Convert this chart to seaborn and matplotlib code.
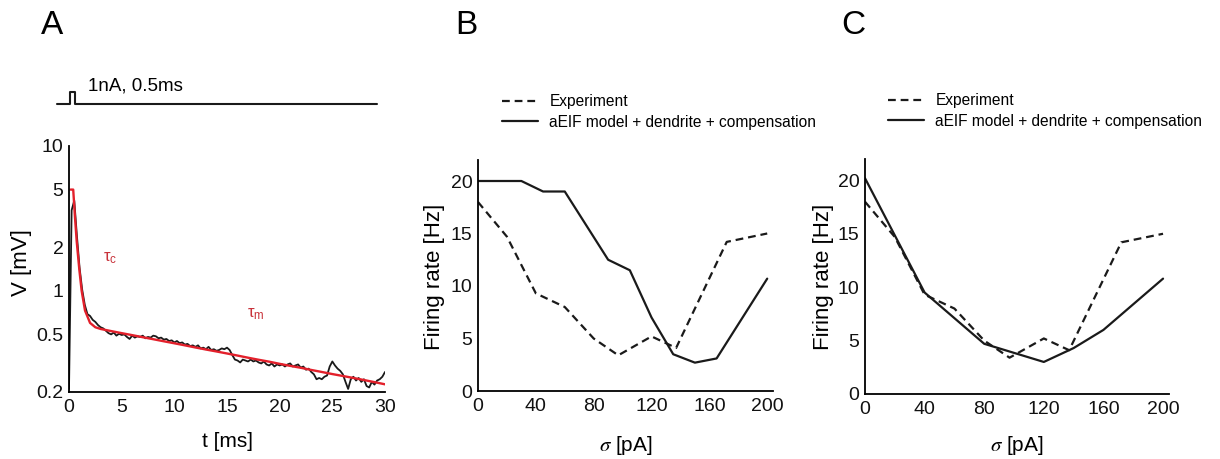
import numpy as np
import matplotlib
matplotlib.use("Agg")
import matplotlib.pyplot as plt
from matplotlib.ticker import NullLocator
import seaborn as sns

# ---------------- data ----------------
# Panel A: stimulus pulse
stim_t = [-1.1, 0.1, 0.1, 0.55, 0.55, 29.2]
stim_i = [0, 0, 1, 1, 0, 0]

# Panel A: recorded voltage (sampled every 0.25 ms, 0..30 ms)
volt_dt = 0.25
volt_v = [0.21, 3.6, 4.2, 2.4, 1.45, 1.02, 0.80, 0.69, 0.67, 0.63, 0.61, 0.58,
          0.56, 0.55, 0.53, 0.51, 0.50, 0.515, 0.49, 0.505, 0.495, 0.50, 0.48, 0.465,
          0.49, 0.475, 0.485, 0.48, 0.49, 0.47, 0.48, 0.475, 0.49, 0.485, 0.47, 0.475,
          0.46, 0.465, 0.45, 0.455, 0.44, 0.45, 0.435, 0.44, 0.425, 0.43, 0.415, 0.42,
          0.41, 0.42, 0.40, 0.405, 0.395, 0.41, 0.39, 0.395, 0.385, 0.39, 0.40, 0.395,
          0.405, 0.39, 0.36, 0.335, 0.33, 0.32, 0.335, 0.33, 0.325, 0.335, 0.325, 0.33,
          0.32, 0.315, 0.325, 0.31, 0.305, 0.315, 0.30, 0.31, 0.305, 0.31, 0.30, 0.31,
          0.315, 0.30, 0.305, 0.31, 0.295, 0.30, 0.285, 0.29, 0.275, 0.265, 0.245, 0.25,
          0.245, 0.255, 0.26, 0.30, 0.325, 0.305, 0.29, 0.28, 0.265, 0.235, 0.21, 0.245,
          0.255, 0.24, 0.25, 0.235, 0.245, 0.22, 0.215, 0.235, 0.225, 0.24, 0.245, 0.255,
          0.275]
volt_t = np.arange(len(volt_v)) * volt_dt

# Panel A: fit
fit_t = [0.15, 0.4, 0.57, 0.73, 0.98, 1.2, 1.52, 2.0, 2.5, 3, 4, 5, 6, 7, 8, 9, 10,
         11, 12, 13, 14, 15, 16, 17, 18, 19, 20, 21, 22, 23, 24, 25, 26, 27, 28, 29, 30]
fit_v = [5.0, 5.0, 3.2, 2.2, 1.4, 1.0, 0.73, 0.60, 0.56, 0.545, 0.527, 0.510, 0.494,
         0.478, 0.463, 0.448, 0.434, 0.420, 0.406, 0.393, 0.381, 0.369, 0.357, 0.345,
         0.334, 0.324, 0.313, 0.303, 0.294, 0.284, 0.275, 0.266, 0.258, 0.250, 0.242,
         0.234, 0.226]

# Panels B, C: experiment
exp_sigma = [0, 20, 40, 60, 80, 97, 120, 137, 172, 200]
exp_rate = [18.0, 14.7, 9.3, 8.0, 5.0, 3.4, 5.2, 4.1, 14.2, 15.0]

# Panel B: model
modB_sigma = [0, 30, 45, 60, 90, 105, 120, 135, 150, 165, 200]
modB_rate = [20.0, 20.0, 19.0, 19.0, 12.5, 11.5, 7.0, 3.5, 2.7, 3.1, 10.7]

# Panel C: model
modC_sigma = [0, 40, 80, 120, 140, 160, 200]
modC_rate = [20.2, 9.5, 4.7, 3.0, 4.3, 6.0, 10.8]

A_xticks = [0, 5, 10, 15, 20, 25, 30]
A_yticks = [0.2, 0.5, 1, 2, 5, 10]
A_yticklabels = ["0.2", "0.5", "1", "2", "5", "10"]
BC_xticks = [0, 40, 80, 120, 160, 200]
BC_xminor = [20, 60, 100, 140, 180]
BC_yticks = [0, 5, 10, 15, 20]

# ---------------- style ----------------
sns.set_theme(style="white")
plt.rcParams["font.family"] = ["Liberation Sans", "DejaVu Sans"]
plt.rcParams["mathtext.fontset"] = "stix"
plt.rcParams["text.color"] = "black"
plt.rcParams["axes.labelcolor"] = "black"
plt.rcParams["xtick.color"] = "black"
plt.rcParams["ytick.color"] = "black"

W, H = 1220, 459
fig = plt.figure(figsize=(W / 100, H / 100), dpi=100)


def fax(l, t, r, b):
    return fig.add_axes([l / W, 1 - b / H, (r - l) / W, (b - t) / H])


def style_axis(ax):
    sns.despine(ax=ax)
    for s in ("left", "bottom"):
        ax.spines[s].set_linewidth(1.3)
        ax.spines[s].set_color("black")
    ax.tick_params(which="both", direction="in", length=4, width=1.1,
                   color="black", labelsize=14, pad=4, labelcolor="#111111")
    ax.tick_params(axis="x", pad=5)


axA = fax(69, 146, 385, 392)
axS = fax(69, 85, 385, 110)
axB = fax(478, 160, 773, 391)
axC = fax(865, 159, 1169, 394)

# ---- Panel A ----
axA.set_yscale("log")
sns.lineplot(x=volt_t, y=volt_v, ax=axA, estimator=None, sort=False,
             color="#1a1a1a", lw=1.3)
sns.lineplot(x=fit_t, y=fit_v, ax=axA, estimator=None, sort=False,
             color="#e3202b", lw=1.7)
axA.set_xlim(0, 30)
axA.set_ylim(0.2, 10)
axA.set_xticks(A_xticks)
axA.set_yticks(A_yticks)
axA.set_yticklabels(A_yticklabels)
axA.yaxis.set_minor_locator(NullLocator())
style_axis(axA)
axA.set_xlabel("t [ms]", fontsize=15)
axA.set_ylabel("V [mV]", fontsize=16)
axA.xaxis.set_label_coords(227 / W, 1 - 432 / H, transform=fig.transFigure)
axA.yaxis.set_label_coords(32 / W, 1 - 263 / H, transform=fig.transFigure)
axA.text(3.2, 1.67, "τ$_\\mathregular{c}$", color="#c8323a", fontsize=12,
         ha="left", va="center")
axA.text(16.9, 0.69, "τ$_\\mathregular{m}$", color="#c8323a", fontsize=12,
         ha="left", va="center")

# stimulus trace
sns.lineplot(x=stim_t, y=stim_i, ax=axS, estimator=None, sort=False,
             color="#1a1a1a", lw=1.5, clip_on=False)
axS.set_xlim(0, 30)
axS.set_ylim(-0.5, 1.583)
axS.axis("off")
axS.text(1.8, 1.5, "1nA, 0.5ms", fontsize=13.5, ha="left", va="center")

# ---- Panels B and C ----
for ax, ms, mr, lbl_x, leg_x, leg_y in (
        (axB, modB_sigma, modB_rate, 445, 502, 94),
        (axC, modC_sigma, modC_rate, 834, 888, 93)):
    sns.lineplot(x=exp_sigma, y=exp_rate, ax=ax, estimator=None, sort=False,
                 color="#1a1a1a", lw=1.6, linestyle="--", label="Experiment")
    ax.lines[-1].set_dashes((3.5, 2.2))
    sns.lineplot(x=ms, y=mr, ax=ax, estimator=None, sort=False,
                 color="#1a1a1a", lw=1.6, label="aEIF model + dendrite + compensation")
    ax.set_xlim(0, 204)
    ax.set_ylim(0, 22)
    ax.set_xticks(BC_xticks)
    ax.set_xticks(BC_xminor, minor=True)
    ax.set_yticks(BC_yticks)
    style_axis(ax)
    ax.set_xlabel(r"$\sigma$ [pA]", fontsize=15)
    ax.set_ylabel("Firing rate [Hz]", fontsize=16)
    ax.xaxis.set_label_coords((ax.get_position().x0 + ax.get_position().x1) / 2,
                              1 - 434 / H, transform=fig.transFigure)
    ax.yaxis.set_label_coords(lbl_x / W, 1 - 277 / H, transform=fig.transFigure)
    ax.legend(loc="upper left", bbox_to_anchor=(leg_x / W, 1 - leg_y / H),
              bbox_transform=fig.transFigure, frameon=False, fontsize=11.2,
              borderpad=0, borderaxespad=0, handlelength=2.3,
              handletextpad=0.75, labelspacing=0.38)

# panel letters
fig.text(52 / W, 1 - 26 / H, "A", fontsize=24, ha="center", va="center")
fig.text(466 / W, 1 - 26 / H, "B", fontsize=24, ha="center", va="center")
fig.text(853 / W, 1 - 26 / H, "C", fontsize=24, ha="center", va="center")

fig.savefig("out.png", dpi=100)
